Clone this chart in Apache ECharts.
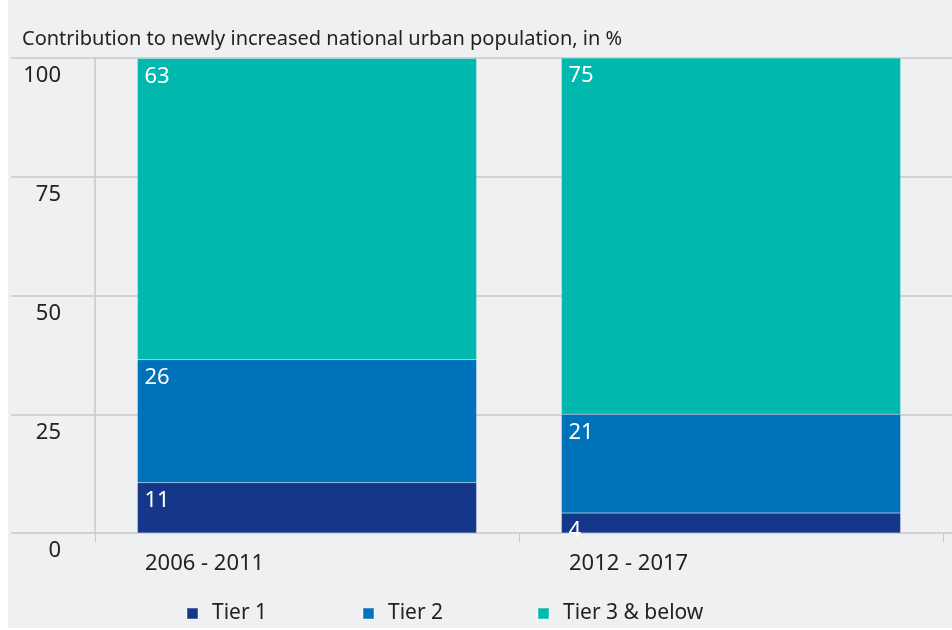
<!DOCTYPE html>
<html>
<head>
<meta charset="utf-8">
<script src="https://cdn.jsdelivr.net/npm/echarts@6/dist/echarts.min.js"></script>
<style>
  html, body { margin: 0; padding: 0; background: #fff; }
  #main { position: absolute; left: 8px; top: 0; width: 944px; height: 628px; }
</style>
</head>
<body>
<div id="main"></div>
<script>
var periods = ['2006 - 2011', '2012 - 2017'];
var tierNames = ['Tier 1', 'Tier 2', 'Tier 3 & below'];
var tier1 = [10.6, 4.2];
var tier2 = [25.9, 20.8];
var tier3 = [63.4, 75];
var yTicks = [0, 25, 50, 75, 100];
var font = 'Noto Sans';

var myChart = echarts.init(document.getElementById('main'));

function seg(name, data, color) {
    return {
        name: name,
        type: 'bar',
        stack: 'all',
        barWidth: '80%',
        z: 3,
        data: data,
        itemStyle: { color: color, borderColor: 'rgba(255,255,255,0.25)', borderWidth: 0.5 },
        label: {
            show: true,
            position: 'insideTopLeft',
            distance: 7,
            color: '#fff',
            fontFamily: font,
            fontSize: 22,
            formatter: function (p) { return Math.round(p.value); }
        }
    };
}

// one legend per item so the items sit at fixed spacing
var legendLeft = [173, 349, 524];
var legends = tierNames.map(function (n, i) {
    return {
        left: legendLeft[i],
        top: 598,
        icon: 'rect',
        itemWidth: 11,
        itemHeight: 11,
        textStyle: { fontFamily: font, fontSize: 21, color: '#222', padding: [0, 0, 0, 9] },
        data: [n]
    };
});

var option = {
    backgroundColor: '#eff0f2',
    animation: false,
    title: {
        text: 'Contribution to newly increased national urban population, in %',
        left: 9,
        top: 24,
        textStyle: { fontFamily: font, fontSize: 20, fontWeight: 'normal', color: '#222' }
    },
    legend: legends,
    grid: [
        { left: 87, right: 9, top: 58, bottom: 95 },
        { left: 3, right: 0, top: 58, bottom: 95 }
    ],
    xAxis: [
        {
            type: 'category',
            gridIndex: 0,
            data: periods,
            axisLine: { show: false },
            axisTick: { show: true, length: 9, lineStyle: { color: '#c8c8c8' } },
            axisLabel: {
                margin: 20,
                formatter: '{a|{value}}',
                rich: { a: { width: 324, align: 'left', fontFamily: font, fontSize: 22, color: '#222' } }
            }
        },
        { type: 'category', gridIndex: 1, data: periods, show: false }
    ],
    yAxis: [
        {
            type: 'value',
            gridIndex: 0,
            min: yTicks[0],
            max: yTicks[yTicks.length - 1],
            interval: 25,
            axisLine: { show: true, lineStyle: { color: '#c8c8c8', width: 1.5 } },
            axisTick: { show: false },
            splitLine: { show: false },
            axisLabel: {
                margin: 34,
                align: 'right',
                verticalAlign: 'top',
                padding: [7, 0, 0, 0],
                fontFamily: font,
                fontSize: 22,
                color: '#222'
            }
        },
        {
            type: 'value',
            gridIndex: 1,
            min: 0,
            max: 100,
            interval: 25,
            axisLine: { show: false },
            axisTick: { show: false },
            axisLabel: { show: false },
            splitLine: { show: true, lineStyle: { color: '#c8c8c8', width: 1.5 } }
        }
    ],
    series: [
        seg(tierNames[0], tier1, '#15378a'),
        seg(tierNames[1], tier2, '#0072ba'),
        seg(tierNames[2], tier3, '#00b8ad')
    ]
};
myChart.setOption(option);
</script>
</body>
</html>
